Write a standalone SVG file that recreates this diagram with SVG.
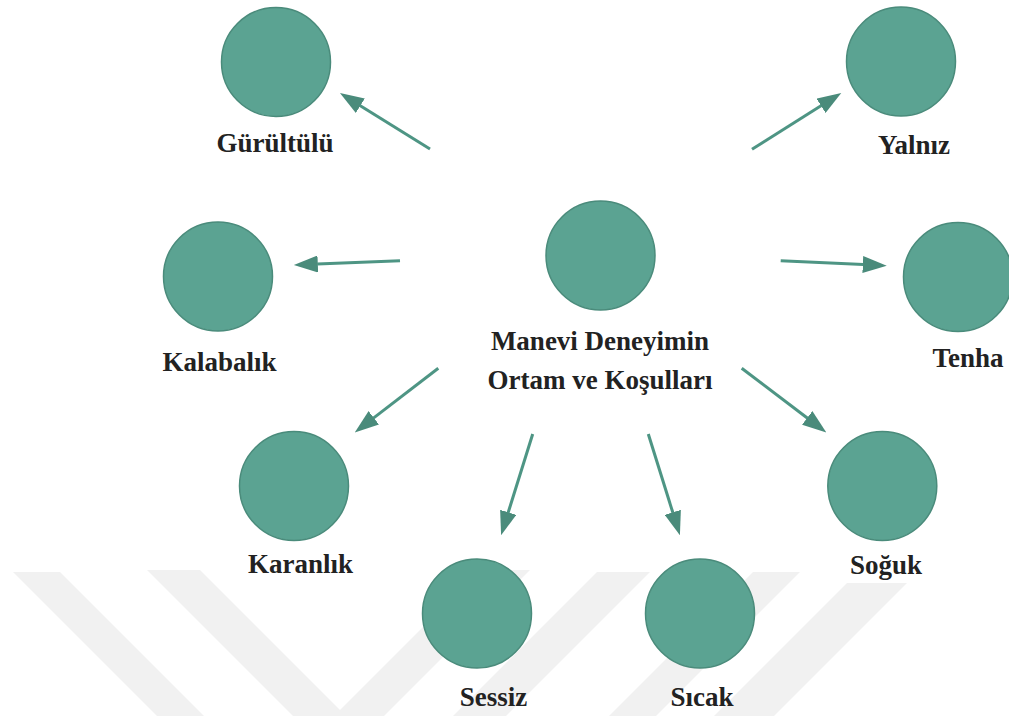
<svg xmlns="http://www.w3.org/2000/svg" width="1009" height="716" viewBox="0 0 1009 716">
<style>
.node circle{fill:#5ba392;stroke:#4a8b7b;stroke-width:1.5}
.lbl{font-family:"Liberation Serif","Times New Roman",serif;font-weight:bold;font-size:27px;fill:#222;text-anchor:middle}
.edge{stroke:#4e9584;stroke-width:3;fill:none;marker-end:url(#ah)}
.wm{fill:#f1f1f1}
</style>
<defs>
<marker id="ah" markerUnits="userSpaceOnUse" markerWidth="24" markerHeight="17" refX="0.5" refY="8.5" orient="auto">
<path d="M0,0 L24,8.5 L0,17 z" fill="#4a8b7b"/>
</marker>
</defs>
<rect width="1009" height="716" fill="#ffffff"/>
<g id="watermark">
<polygon class="wm" points="13,572 60,572 204,716 157,716"/>
<polygon class="wm" points="147,570 200,570 340,710 480,570 530,570 384,716 293,716"/>
<polygon class="wm" points="597,572 650,572 506,716 453,716"/>
<polygon class="wm" points="753,572 800,572 656,716 609,716"/>
<polygon class="wm" points="847,583 907,583 774,716 714,716"/>
</g>
<g id="connectors">
<line class="edge" x1="430" y1="149" x2="359.9" y2="105.4"/>
<line class="edge" x1="752" y1="149.3" x2="821.4" y2="105.5"/>
<line class="edge" x1="400" y1="260.7" x2="317.3" y2="264"/>
<line class="edge" x1="780.7" y1="260.7" x2="863.3" y2="264.6"/>
<line class="edge" x1="438.3" y1="368.3" x2="373.4" y2="418.1"/>
<line class="edge" x1="532.7" y1="434" x2="508.1" y2="512.8"/>
<line class="edge" x1="648.3" y1="434" x2="672.9" y2="512.8"/>
<line class="edge" x1="741.7" y1="368.3" x2="807.6" y2="418.2"/>
</g>
<g id="center" class="node">
<circle cx="600.5" cy="255.5" r="54.5"/>
<text class="lbl" x="600" y="350">Manevi Deneyimin</text>
<text class="lbl" x="600" y="389">Ortam ve Koşulları</text>
</g>
<g id="gurultulu" class="node">
<circle cx="276" cy="62" r="54.5"/>
<text class="lbl" x="275" y="152">Gürültülü</text>
</g>
<g id="yalniz" class="node">
<circle cx="901" cy="61.5" r="54.5"/>
<text class="lbl" x="914" y="154">Yalnız</text>
</g>
<g id="kalabalik" class="node">
<circle cx="218" cy="276.5" r="54.5"/>
<text class="lbl" x="219.5" y="371">Kalabalık</text>
</g>
<g id="tenha" class="node">
<circle cx="958" cy="277" r="54.5"/>
<text class="lbl" x="968" y="367">Tenha</text>
</g>
<g id="karanlik" class="node">
<circle cx="294" cy="486" r="54.5"/>
<text class="lbl" x="300.5" y="573">Karanlık</text>
</g>
<g id="soguk" class="node">
<circle cx="882.3" cy="486" r="54.5"/>
<text class="lbl" x="886" y="574">Soğuk</text>
</g>
<g id="sessiz" class="node">
<circle cx="477" cy="613.5" r="54.5"/>
<text class="lbl" x="493.5" y="706">Sessiz</text>
</g>
<g id="sicak" class="node">
<circle cx="700" cy="613.5" r="54.5"/>
<text class="lbl" x="702" y="706">Sıcak</text>
</g>
</svg>
